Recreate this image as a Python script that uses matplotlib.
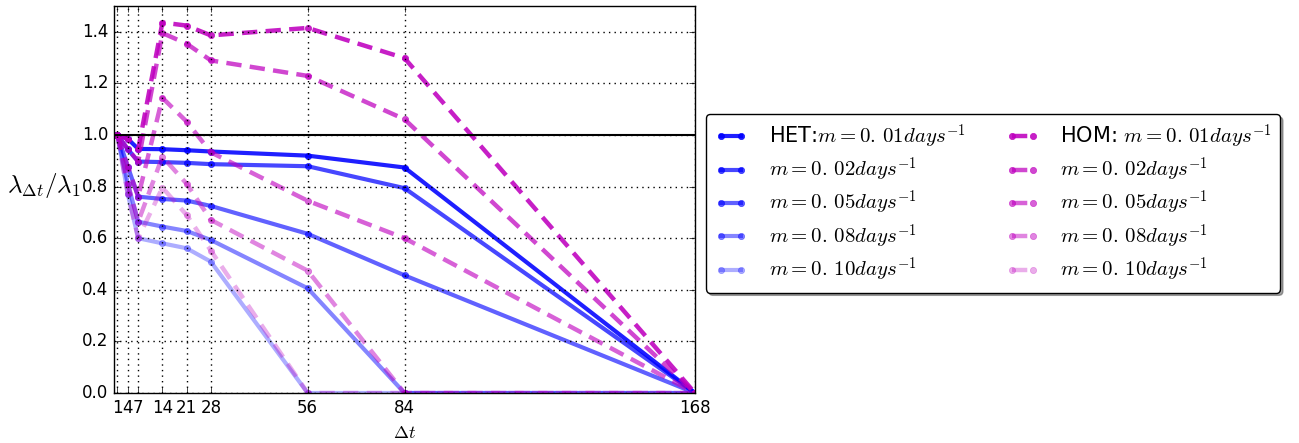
import matplotlib
matplotlib.use("Agg")
import matplotlib.pyplot as plt

plt.style.use("classic")
plt.rcParams["mathtext.fontset"] = "cm"
plt.rcParams["lines.scale_dashes"] = False

# Lags (days)
lags = [1, 4, 7, 14, 21, 28, 56, 84, 168]
rates = ["0.01", "0.02", "0.05", "0.08", "0.10"]

# Heterogeneous model: lambda_dt / lambda_1
het_001 = [1.0, 0.985, 0.946, 0.945, 0.941, 0.936, 0.920, 0.874, 0.0]
het_002 = [1.0, 0.945, 0.897, 0.895, 0.892, 0.887, 0.879, 0.794, 0.0]
het_005 = [1.0, 0.877, 0.761, 0.752, 0.746, 0.725, 0.617, 0.456, 0.0]
het_008 = [1.0, 0.810, 0.664, 0.645, 0.628, 0.593, 0.406, 0.0, 0.0]
het_010 = [1.0, 0.770, 0.600, 0.580, 0.561, 0.509, 0.0, 0.0, 0.0]

# Homogeneous model: lambda_dt / lambda_1
hom_001 = [1.0, 0.985, 0.946, 1.436, 1.424, 1.386, 1.415, 1.298, 0.0]
hom_002 = [1.0, 0.945, 0.897, 1.395, 1.354, 1.289, 1.229, 1.061, 0.0]
hom_005 = [1.0, 0.877, 0.761, 1.144, 1.052, 0.933, 0.745, 0.600, 0.0]
hom_008 = [1.0, 0.810, 0.664, 0.916, 0.811, 0.671, 0.474, 0.0, 0.0]
hom_010 = [1.0, 0.770, 0.600, 0.796, 0.690, 0.552, 0.0, 0.0, 0.0]

het = [het_001, het_002, het_005, het_008, het_010]
hom = [hom_001, hom_002, hom_005, hom_008, hom_010]
alphas = [0.88, 0.72, 0.62, 0.48, 0.32]


def rate_label(r):
    whole, frac = r.split(".")
    return r"$m=%s.\,%sdays^{-1}$" % (whole, frac)


fig = plt.figure(figsize=(12.99, 4.43), dpi=100, facecolor="white")
ax = fig.add_axes([114 / 1299, 50 / 443, 581 / 1299, 387 / 443])

het_lines = []
for i, (vals, a) in enumerate(zip(het, alphas)):
    lab = ("HET:" if i == 0 else "") + rate_label(rates[i])
    ln, = ax.plot(lags, vals, "-", color="b", alpha=a, lw=3,
                  marker="o", ms=4.5, mec="b", mfc="b", label=lab)
    het_lines.append(ln)

hom_lines = []
for i, (vals, a) in enumerate(zip(hom, alphas)):
    lab = ("HOM: " if i == 0 else "") + rate_label(rates[i])
    ln, = ax.plot(lags, vals, "--", color="m", alpha=a, lw=3.2,
                  marker="o", ms=4.5, mec="m", mfc="m", label=lab,
                  dashes=(11, 6))
    hom_lines.append(ln)

ax.axhline(1.0, color="k", lw=1.5)

ax.set_xlim(0, 168)
ax.set_ylim(0, 1.5)
ax.set_xticks(lags)
ax.set_xticklabels([str(v) for v in lags])
ax.set_yticks([0.0, 0.2, 0.4, 0.6, 0.8, 1.0, 1.2, 1.4])
ax.grid(True, linestyle=":", color="k", lw=1)
ax.tick_params(labelsize=12)

ax.set_xlabel(r"$\Delta t$", fontsize=13)
ax.set_ylabel(r"$\lambda_{\Delta t}/\lambda_1$", fontsize=18, rotation=0,
              ha="right", va="bottom", labelpad=1)

leg = ax.legend(het_lines + hom_lines,
                [l.get_label() for l in het_lines + hom_lines],
                ncol=2, loc="center left", bbox_to_anchor=(1.019, 0.49),
                borderaxespad=0.0, fancybox=True, shadow=True, fontsize=15,
                numpoints=2, handlelength=1.6, handletextpad=1.0,
                columnspacing=1.95, labelspacing=0.25, borderpad=0.4)

fig.savefig("out.png", dpi=100, facecolor="white")
